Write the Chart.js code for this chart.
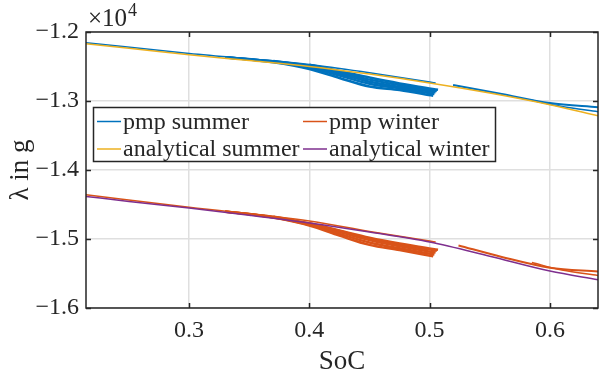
<!DOCTYPE html>
<html>
<head>
<meta charset="utf-8">
<script src="https://cdn.jsdelivr.net/npm/chart.js@4/dist/chart.umd.min.js"></script>
<style>
  html, body { margin: 0; padding: 0; background: #fff; }
  #wrap { width: 599px; height: 375px; }
</style>
</head>
<body>
<div id="wrap"><canvas id="chart"></canvas></div>
<script>
// x axis range and ticks (SoC)
const socMin = 0.2143;
const socMax = 0.64;
const socTicks = [0.3, 0.4, 0.5, 0.6];
const lambdaTicks = [-16000, -15000, -14000, -13000, -12000];

// analytical solutions
const analyticalSoc    = [0.2143, 0.25, 0.3, 0.35, 0.4, 0.45, 0.5, 0.55, 0.6, 0.64];
const analyticalSummer = [-12170, -12235, -12330, -12413, -12500, -12610, -12738, -12884, -13053, -13213];
const analyticalWinter = [-14383, -14455, -14551, -14655, -14768, -14900, -15045, -15250, -15465, -15590];

// pmp summer trajectories
const pmpSummerSocA = [0.2143, 0.3, 0.4, 0.45, 0.5, 0.505];
const pmpSummerA    = [-12155, -12310, -12470, -12590, -12725, -12740];
const pmpSummerSocB = [0.33, 0.37, 0.4, 0.425, 0.45, 0.475, 0.503];
const pmpSummerB    = [-12365, -12440, -12536, -12666, -12790, -12840, -12923];
const pmpSummerSocC = [0.33, 0.37, 0.4, 0.425, 0.45, 0.475, 0.504];
const pmpSummerC    = [-12365, -12430, -12515, -12630, -12750, -12815, -12900];
const pmpSummerSocD = [0.33, 0.37, 0.4, 0.425, 0.45, 0.475, 0.505];
const pmpSummerD    = [-12370, -12425, -12500, -12605, -12720, -12795, -12875];
const pmpSummerSocE = [0.37, 0.4, 0.425, 0.45, 0.475, 0.506];
const pmpSummerE    = [-12420, -12490, -12585, -12690, -12770, -12855];
const pmpSummerSocF = [0.4, 0.425, 0.45, 0.475, 0.507];
const pmpSummerF    = [-12474, -12565, -12660, -12745, -12837];
const pmpSummerSocG = [0.5195, 0.56, 0.6, 0.64];
const pmpSummerG    = [-12768, -12900, -13030, -13090];
const pmpSummerSocH = [0.585, 0.61, 0.64];
const pmpSummerH    = [-12990, -13080, -13155];

// pmp winter trajectories
const pmpWinterSocA = [0.2143, 0.3, 0.4, 0.45, 0.5, 0.505];
const pmpWinterA    = [-14360, -14540, -14740, -14890, -15030, -15045];
const pmpWinterSocB = [0.33, 0.37, 0.4, 0.425, 0.45, 0.475, 0.503];
const pmpWinterB    = [-14600, -14690, -14805, -14950, -15085, -15160, -15252];
const pmpWinterSocC = [0.33, 0.37, 0.4, 0.425, 0.45, 0.475, 0.504];
const pmpWinterC    = [-14600, -14685, -14795, -14925, -15050, -15135, -15225];
const pmpWinterSocD = [0.33, 0.37, 0.4, 0.425, 0.45, 0.475, 0.505];
const pmpWinterD    = [-14605, -14680, -14785, -14900, -15015, -15105, -15195];
const pmpWinterSocE = [0.37, 0.4, 0.425, 0.45, 0.475, 0.506];
const pmpWinterE    = [-14675, -14775, -14885, -14995, -15085, -15170];
const pmpWinterSocF = [0.4, 0.425, 0.45, 0.475, 0.507];
const pmpWinterF    = [-14770, -14875, -14980, -15065, -15155];
const pmpWinterSocG = [0.524, 0.56, 0.6, 0.64];
const pmpWinterG    = [-15093, -15260, -15416, -15470];
const pmpWinterSocH = [0.585, 0.61, 0.64];
const pmpWinterH    = [-15340, -15450, -15528];

const blue = '#0072BD', orange = '#D95319', yellow = '#EDB120', purple = '#7E2F8E';
const serif = "'Liberation Serif', 'DejaVu Serif', serif";

function pts(xs, ys) {
  return xs.map((x, i) => ({ x: x, y: ys[i] }));
}

function line(label, xs, ys, color, width, order) {
  return {
    label: label,
    data: pts(xs, ys),
    showLine: true,
    borderColor: color,
    backgroundColor: color,
    borderWidth: width,
    pointRadius: 0,
    pointHoverRadius: 0,
    fill: false,
    order: order,
    cubicInterpolationMode: 'monotone'
  };
}

const legendItems = [
  { text: 'pmp summer', color: blue, col: 0, row: 0 },
  { text: 'pmp winter', color: orange, col: 1, row: 0 },
  { text: 'analytical summer', color: yellow, col: 0, row: 1 },
  { text: 'analytical winter', color: purple, col: 1, row: 1 }
];

const boxPlugin = {
  id: 'box',
  afterDraw(chart) {
    const ctx = chart.ctx;
    const a = chart.chartArea;
    const xs = chart.scales.x, ys = chart.scales.y;
    ctx.save();
    ctx.strokeStyle = '#262626';
    ctx.lineWidth = 1.5;
    // inward ticks
    ctx.beginPath();
    socTicks.forEach(v => {
      const px = Math.round(xs.getPixelForValue(v)) + 0.5;
      ctx.moveTo(px, a.bottom); ctx.lineTo(px, a.bottom - 5);
      ctx.moveTo(px, a.top); ctx.lineTo(px, a.top + 5);
    });
    lambdaTicks.forEach(v => {
      const py = Math.round(ys.getPixelForValue(v)) + 0.5;
      ctx.moveTo(a.left, py); ctx.lineTo(a.left + 5, py);
      ctx.moveTo(a.right, py); ctx.lineTo(a.right - 5, py);
    });
    ctx.stroke();
    ctx.strokeRect(a.left, a.top, a.right - a.left, a.bottom - a.top);

    // exponent label
    ctx.fillStyle = '#262626';
    ctx.textBaseline = 'alphabetic';
    ctx.textAlign = 'left';
    ctx.font = '25px ' + serif;
    ctx.fillText('\u00d710', a.left + 2, 26);
    const w = ctx.measureText('\u00d710').width;
    ctx.font = '18px ' + serif;
    ctx.fillText('4', a.left + 3 + w, 16);

    // legend box
    const lx = 93.5, ly = 107.5, lw = 402, lh = 54;
    ctx.fillStyle = '#fff';
    ctx.fillRect(lx, ly, lw, lh);
    ctx.lineWidth = 1.5;
    ctx.strokeRect(lx, ly, lw, lh);
    ctx.font = '24px ' + serif;
    ctx.textBaseline = 'middle';
    legendItems.forEach(it => {
      const x0 = it.col === 0 ? 97 : 303;
      const y0 = it.row === 0 ? 121.5 : 149;
      ctx.strokeStyle = it.color;
      ctx.lineWidth = 1.5;
      ctx.beginPath();
      ctx.moveTo(x0, y0); ctx.lineTo(x0 + 24, y0);
      ctx.stroke();
      ctx.fillStyle = '#262626';
      ctx.fillText(it.text, x0 + 26, y0 + 1);
    });
    ctx.restore();
  }
};

new Chart(document.getElementById('chart'), {
  type: 'scatter',
  data: {
    datasets: [
      line('analytical summer', analyticalSoc, analyticalSummer, yellow, 1.5, 0),
      line('analytical winter', analyticalSoc, analyticalWinter, purple, 1.5, 0),
      line('pmp summer', pmpSummerSocA, pmpSummerA, blue, 1.5, 1),
      line('pmp summer', pmpSummerSocB, pmpSummerB, blue, 2.5, 1),
      line('pmp summer', pmpSummerSocC, pmpSummerC, blue, 2.5, 1),
      line('pmp summer', pmpSummerSocD, pmpSummerD, blue, 2.5, 1),
      line('pmp summer', pmpSummerSocE, pmpSummerE, blue, 2.5, 1),
      line('pmp summer', pmpSummerSocF, pmpSummerF, blue, 2.5, 1),
      line('pmp summer', pmpSummerSocG, pmpSummerG, blue, 2, 1),
      line('pmp summer', pmpSummerSocH, pmpSummerH, blue, 1.5, 1),
      line('pmp winter', pmpWinterSocA, pmpWinterA, orange, 1.5, 1),
      line('pmp winter', pmpWinterSocB, pmpWinterB, orange, 2.5, 1),
      line('pmp winter', pmpWinterSocC, pmpWinterC, orange, 2.5, 1),
      line('pmp winter', pmpWinterSocD, pmpWinterD, orange, 2.5, 1),
      line('pmp winter', pmpWinterSocE, pmpWinterE, orange, 2.5, 1),
      line('pmp winter', pmpWinterSocF, pmpWinterF, orange, 2.5, 1),
      line('pmp winter', pmpWinterSocG, pmpWinterG, orange, 2, 1),
      line('pmp winter', pmpWinterSocH, pmpWinterH, orange, 1.5, 1)
    ]
  },
  options: {
    responsive: true,
    maintainAspectRatio: false,
    animation: false,
    events: [],
    layout: { padding: { top: 32, right: 1, left: 0, bottom: 0 } },
    plugins: {
      legend: { display: false },
      tooltip: { enabled: false }
    },
    scales: {
      x: {
        type: 'linear',
        min: socMin,
        max: socMax,
        afterBuildTicks: scale => { scale.ticks = socTicks.map(v => ({ value: v })); },
        afterFit: scale => { scale.height = 67; },
        border: { display: false },
        grid: { color: '#dfdfdf', lineWidth: 1.5, drawTicks: false },
        ticks: {
          color: '#262626',
          font: { family: serif, size: 24 },
          padding: 8,
          maxRotation: 0,
          callback: v => v.toFixed(1)
        },
        title: {
          display: true,
          text: 'SoC',
          color: '#262626',
          font: { family: serif, size: 27, lineHeight: 1 },
          padding: { top: 0, bottom: 0 }
        }
      },
      y: {
        type: 'linear',
        min: -16000,
        max: -12000,
        afterBuildTicks: scale => { scale.ticks = lambdaTicks.map(v => ({ value: v })); },
        afterFit: scale => { scale.width = 86; },
        border: { display: false },
        grid: { color: '#dfdfdf', lineWidth: 1.5, drawTicks: false },
        ticks: {
          color: '#262626',
          font: { family: serif, size: 24 },
          padding: 7,
          callback: v => (v / 10000).toFixed(1).replace('-', '\u2212')
        },
        title: {
          display: true,
          text: '\u03bb in g',
          color: '#262626',
          font: { family: serif, size: 27 },
          padding: { top: 5, bottom: 0 }
        }
      }
    }
  },
  plugins: [boxPlugin]
});
</script>
</body>
</html>
